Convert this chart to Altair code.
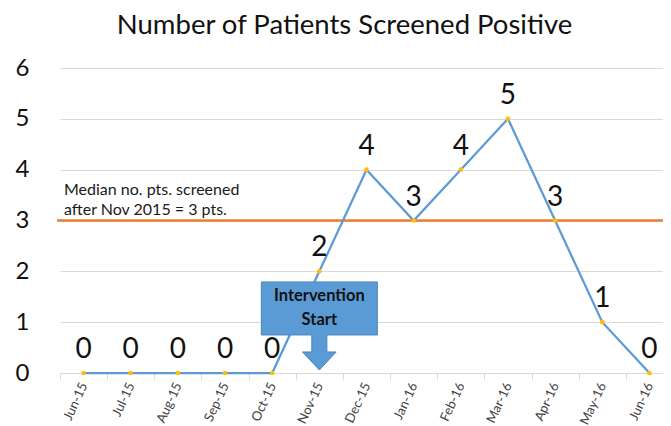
import altair as alt
import pandas as pd

months = ["Jun-15", "Jul-15", "Aug-15", "Sep-15", "Oct-15", "Nov-15", "Dec-15",
          "Jan-16", "Feb-16", "Mar-16", "Apr-16", "May-16", "Jun-16"]
patients = [0, 0, 0, 0, 0, 2, 4, 3, 4, 5, 3, 1, 0]
median_value = 3
median_text = ["Median no. pts. screened", "after Nov 2015 = 3 pts."]
intervention_month = "Nov-15"
intervention_lines = ["Intervention", "Start"]

FONT = "Lato"
df = pd.DataFrame({"month": months, "patients": patients})

xscale = alt.Scale(domain=months, range=[0, 613], paddingInner=0, paddingOuter=0)
yscale = alt.Scale(domain=[0, 6], nice=False)

x_enc = alt.X("month:N", scale=xscale, sort=months,
              axis=alt.Axis(title=None, labelAngle=-65, labelAlign="right", labelBaseline="middle",
                            labelFontSize=13, labelFont=FONT, labelColor="#404040",
                            domainColor="#d9d9d9", tickColor="#d9d9d9", tickBand="extent",
                            tickSize=6, labelPadding=4, grid=False))
y_enc = alt.Y("patients:Q", scale=yscale,
              axis=alt.Axis(title=None, values=[0, 1, 2, 3, 4, 5, 6], labelFontSize=24,
                            labelFont=FONT, labelColor="#111111", domain=False, ticks=False,
                            grid=True, gridColor="#d9d9d9", gridWidth=1, labelPadding=31))

base = alt.Chart(df)

median_rule = alt.Chart(pd.DataFrame({"m": [median_value]})).mark_rule(
    color="#ED7D31", strokeWidth=2.5).encode(
    y=alt.Y("m:Q", scale=yscale), x=alt.value(-3), x2=alt.value(613))

median_label = alt.Chart(pd.DataFrame({"m": [median_value + 0.5]})).mark_text(
    text=median_text, align="left", baseline="alphabetic", font=FONT, fontSize=16,
    lineHeight=19.5, color="#1a1a1a").encode(
    y=alt.Y("m:Q", scale=yscale), x=alt.value(4))

line = base.mark_line(color="#5B9BD5", strokeWidth=2.25).encode(x=x_enc, y=y_enc)
points = base.mark_point(filled=True, color="#FFC000", size=22, opacity=1).encode(x=x_enc, y=y_enc)

callout_path = ("M-1,-0.759 L1,-0.759 L1,0.155 L0.13,0.155 L0.13,0.448 L0.29,0.448 "
                "L0,0.759 L-0.29,0.448 L-0.13,0.448 L-0.13,0.155 L-1,0.155 Z")
callout = alt.Chart(pd.DataFrame({"month": [intervention_month], "v": [0.925]})).mark_point(
    shape=callout_path, size=13456, filled=True, fill="#5B9BD5", stroke="#4A85C0",
    strokeWidth=1, opacity=1).encode(
    x=alt.X("month:N", scale=xscale, sort=months), y=alt.Y("v:Q", scale=yscale))

callout_text = alt.Chart(pd.DataFrame({"month": [intervention_month] * 2,
                                       "v": [1.515, 1.04],
                                       "t": intervention_lines})).mark_text(
    font=FONT, fontSize=16.5, fontWeight="bold", color="#111111", baseline="middle").encode(
    x=alt.X("month:N", scale=xscale, sort=months), y=alt.Y("v:Q", scale=yscale), text="t:N")

labels = base.mark_text(font=FONT, fontSize=28, dy=-15, baseline="alphabetic",
                        color="#111111").encode(x=x_enc, y=y_enc, text="patients:Q")

chart = alt.layer(median_rule, median_label, line, points, callout, callout_text, labels).properties(
    width=603, height=305,
    title=alt.TitleParams("Number of Patients Screened Positive", font=FONT, fontSize=27.5,
                          fontWeight="normal", color="#111111", anchor="middle", offset=17, dx=-17),
    autosize=alt.AutoSizeParams(type="none"),
    padding={"left": 52, "top": 60, "right": 0, "bottom": 53},
).configure_view(stroke=None)

chart.save("out.html", embed_options={"renderer": "svg", "actions": False})
